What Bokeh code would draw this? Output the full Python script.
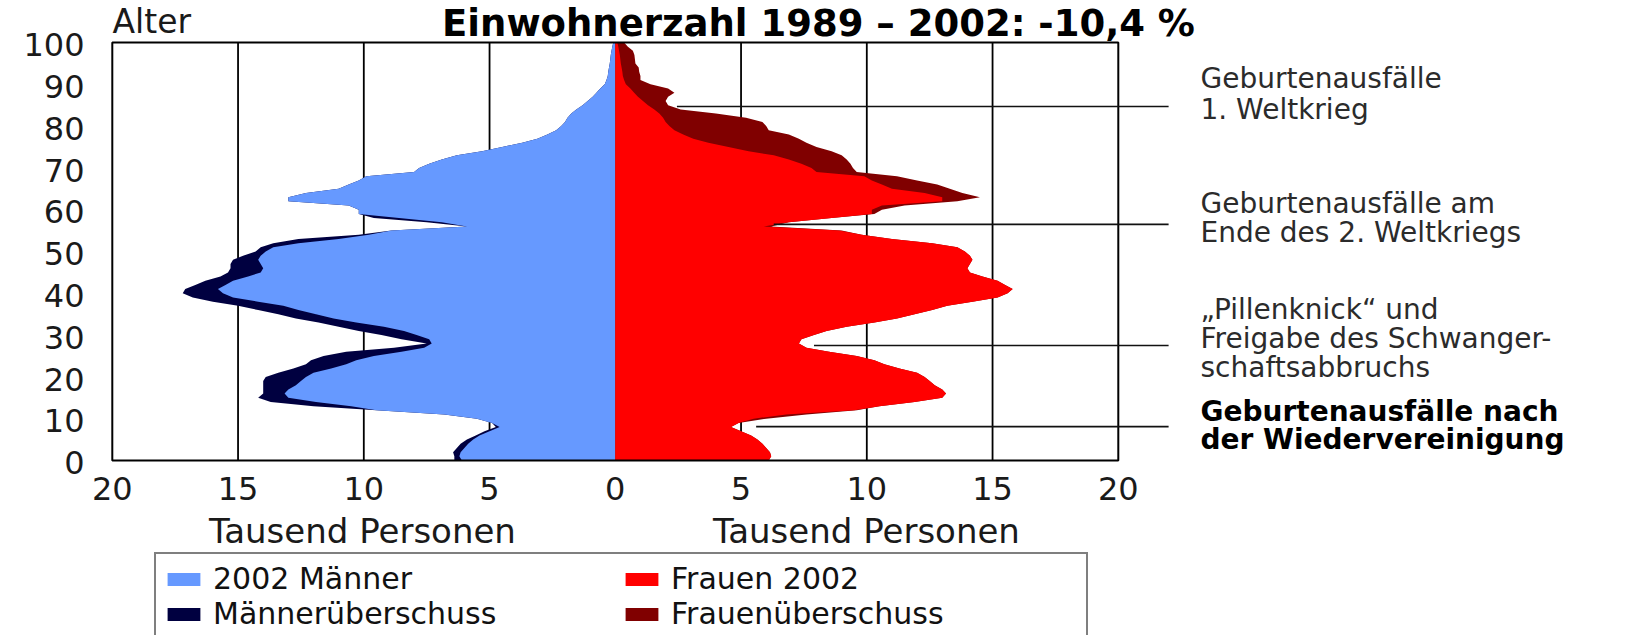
import numpy as np
from bokeh.plotting import figure
from bokeh.models import ColumnDataSource, Label, Legend, LegendItem, Range1d
from bokeh.core.properties import value
from bokeh.embed import file_html
from bokeh.resources import INLINE

# ---------------- data (Tausend Personen je Altersjahr) ----------------
ages = list(range(0, 101))

maenner = [
    6.4, 6.4, 6.45, 6.3, 6.15, 5.9, 5.55, 5.2, 4.75, 4.9,        # 0-9
    5.5, 6.8, 9.5, 12.0, 13.7, 14.2, 14.0, 14.0, 14.0, 14.0,     # 10-19
    13.9, 13.4, 12.8, 12.3, 12.1, 11.6, 10.7, 8.8, 7.5, 8.5,     # 20-29
    9.3, 10.2, 11.0, 11.8, 12.7, 13.4, 14.2, 15.0, 16.0, 16.8,   # 30-39
    17.2, 17.1, 16.7, 16.3, 15.7, 15.4, 15.3, 15.3, 15.2, 14.8,  # 40-49
    14.3, 14.1, 13.6, 12.6, 10.2, 8.9, 5.9, 7.5, 9.6, 10.2,      # 50-59
    10.2, 10.6, 13.0, 13.0, 12.3, 11.0, 10.6, 10.2, 9.9, 8.0,    # 60-69
    7.8, 7.4, 6.9, 6.3, 5.3, 4.5, 3.7, 3.1, 2.7, 2.35,           # 70-79
    2.15, 2.0, 1.9, 1.75, 1.55, 1.3, 1.1, 0.9, 0.75, 0.6,        # 80-89
    0.42, 0.35, 0.3, 0.28, 0.25, 0.22, 0.2, 0.18, 0.15, 0.12,    # 90-99
    0.08,                                                        # 100
]

frauen = [
    6.1, 6.2, 6.15, 6.0, 5.85, 5.65, 5.4, 5.0, 4.6, 4.9,         # 0-9
    6.0, 7.6, 9.6, 10.5, 11.9, 13.0, 13.15, 13.0, 12.7, 12.5,    # 10-19
    12.3, 12.0, 11.3, 10.7, 10.3, 9.6, 8.5, 7.6, 7.3, 7.4,       # 20-29
    7.9, 8.4, 9.2, 10.3, 11.2, 11.9, 12.6, 13.2, 14.2, 15.2,     # 30-39
    15.6, 15.8, 15.5, 15.2, 14.6, 14.1, 14.0, 14.1, 14.2, 14.1,  # 40-49
    13.9, 13.6, 12.6, 11.0, 9.8, 9.0, 6.2, 6.9, 8.6, 10.3,       # 50-59
    10.6, 11.5, 13.6, 14.5, 13.8, 13.3, 12.8, 12.0, 11.2, 9.6,   # 60-69
    9.45, 9.35, 9.2, 9.0, 8.6, 8.0, 7.6, 7.3, 6.9, 6.1,          # 70-79
    6.0, 5.85, 5.2, 4.0, 2.6, 2.1, 2.0, 2.1, 2.35, 2.1,          # 80-89
    1.4, 1.0, 1.0, 0.95, 0.93, 0.8, 0.78, 0.76, 0.7, 0.5,        # 90-99
    0.35,                                                        # 100
]

x_ticks = [-20, -15, -10, -5, 0, 5, 10, 15, 20]
x_tick_labels = ["20", "15", "10", "5", "0", "5", "10", "15", "20"]
y_ticks = [0, 10, 20, 30, 40, 50, 60, 70, 80, 90, 100]
y_tick_labels = [str(t) for t in y_ticks]
grid_ticks = [-15, -10, -5, 5, 10, 15]

legend_labels = ["2002 Männer", "Frauen 2002", "Männerüberschuss", "Frauenüberschuss"]

# annotation pointer lines: age and starting value (Tausend), end value
annot_ages = [84.7, 56.5, 27.5, 8.1]
annot_start = [2.45, 6.3, 7.9, 5.6]
annot_end = 22.0
annot_texts = [
    ["Geburtenausfälle", "1. Weltkrieg"],
    ["Geburtenausfälle am", "Ende des 2. Weltkriegs"],
    ["„Pillenknick“ und", "Freigabe des Schwanger-", "schaftsabbruchs"],
    ["Geburtenausfälle nach", "der Wiedervereinigung"],
]
annot_bold = [False, False, False, True]

# ---------------- colours / fonts ----------------
C_BLUE = "#6699FF"
C_NAVY = "#000040"
C_RED = "#FF0000"
C_DRED = "#800000"
FONT = "DejaVu Sans"

# ---------------- layout: the plotting frame covers the whole canvas ----------------
W, H = 1648, 635
PXX = 25.15            # pixels per thousand persons
PXY = 4.18             # pixels per year of age
X0 = -20 - 111.8 / PXX
X1 = X0 + W / PXX
Y1 = 460 / PXY
Y0 = Y1 - H / PXY
BASE_COMP = 0.36       # text baseline compensation (fraction of font size)


def dx(px):
    return X0 + px / PXX


def dy(py):
    return Y1 - py / PXY


def by(baseline_px, size_px):
    """data y for a text whose alphabetic baseline should sit at baseline_px"""
    return dy(baseline_px - BASE_COMP * size_px)


m = np.array(maenner)
f = np.array(frauen)
common = np.minimum(m, f)

src = ColumnDataSource(dict(
    age=ages,
    zero=[0.0] * len(ages),
    m_total=(-m).tolist(),
    m_common=(-common).tolist(),
    f_total=f.tolist(),
    f_common=common.tolist(),
))

p = figure(width=W, height=H, x_range=Range1d(X0, X1), y_range=Range1d(Y0, Y1),
           output_backend="svg", toolbar_location=None,
           x_axis_location=None, y_axis_location=None,
           min_border_left=0, min_border_right=0, min_border_top=0, min_border_bottom=0)
p.title.visible = False
p.outline_line_color = None
p.background_fill_color = "white"
p.border_fill_color = "white"
p.xgrid.visible = False
p.ygrid.visible = False

# vertical grid lines
p.segment(x0=grid_ticks, y0=[y_ticks[0]] * len(grid_ticks),
          x1=grid_ticks, y1=[y_ticks[-1]] * len(grid_ticks),
          line_color="black", line_width=1.8)

r_navy = p.harea(x1="zero", x2="m_total", y="age", source=src, fill_color=C_NAVY)
r_blue = p.harea(x1="zero", x2="m_common", y="age", source=src, fill_color=C_BLUE)
r_dred = p.harea(x1="zero", x2="f_total", y="age", source=src, fill_color=C_DRED)
r_red = p.harea(x1="zero", x2="f_common", y="age", source=src, fill_color=C_RED)

# chart box
p.quad(left=[x_ticks[0]], right=[x_ticks[-1]], bottom=[y_ticks[0]], top=[y_ticks[-1]],
       fill_color=None, line_color="black", line_width=2)

# pointer lines to the annotations
p.segment(x0=annot_start, y0=annot_ages, x1=[annot_end] * len(annot_ages), y1=annot_ages,
          line_color="#111111", line_width=1.6)

# tick labels, placed through the data scales
TICK_PX = 32
p.text(x=x_ticks, y=[by(500, TICK_PX)] * len(x_ticks), text=x_tick_labels,
       text_font=value(FONT), text_font_size=value(f"{TICK_PX}px"), text_color="#1a1a1a",
       text_align="center", text_baseline="alphabetic")
p.text(x=[dx(84)] * len(y_ticks),
       y=[t - (13.7 - BASE_COMP * TICK_PX) / PXY for t in y_ticks], text=y_tick_labels,
       text_font=value(FONT), text_font_size=value(f"{TICK_PX}px"), text_color="#1a1a1a",
       text_align="right", text_baseline="alphabetic")


def add_label(text, px, baseline, size, align="left", bold=False, color="#1a1a1a"):
    p.add_layout(Label(x=dx(px), y=by(baseline, size), text=text, text_font=FONT,
                       text_font_size=f"{size}px", text_align=align, text_baseline="alphabetic",
                       text_font_style="bold" if bold else "normal", text_color=color))


add_label("Einwohnerzahl 1989 – 2002: -10,4 %", 818, 36, 37, align="center", bold=True, color="black")
add_label("Alter", 112, 33, 33)
add_label("Tausend Personen", 362, 543, 34, align="center")
add_label("Tausend Personen", 866, 543, 34, align="center")

annot_baselines = [[88, 119], [213, 242], [319, 348, 377], [421, 449]]
for lines, bases, bold in zip(annot_texts, annot_baselines, annot_bold):
    for t, b in zip(lines, bases):
        add_label(t, 1200, b, 28, bold=bold, color="black" if bold else "#2b2b2b")

# legend
LEG_TOP = 556
LEG_PAD = 7
LEG_ROW = 35
leg_h = 2 * LEG_PAD + 2 * LEG_ROW
legend = Legend(items=[
    LegendItem(label=legend_labels[0], renderers=[r_blue]),
    LegendItem(label=legend_labels[1], renderers=[r_red]),
    LegendItem(label=legend_labels[2], renderers=[r_navy]),
    LegendItem(label=legend_labels[3], renderers=[r_dred]),
], orientation="horizontal", ncols=2, location=(154, H - LEG_TOP - leg_h))
legend.glyph_width = 41
legend.glyph_height = 16
legend.label_standoff = 9
legend.label_width = 408
legend.label_text_font = FONT
legend.label_text_font_size = "30px"
legend.label_text_color = "#111111"
legend.padding = LEG_PAD
legend.spacing = 0
legend.margin = 0
legend.border_line_color = "black"
legend.border_line_width = 2
legend.background_fill_color = "white"
legend.background_fill_alpha = 1.0
p.add_layout(legend)

open("out.html", "w").write(file_html(p, INLINE))
